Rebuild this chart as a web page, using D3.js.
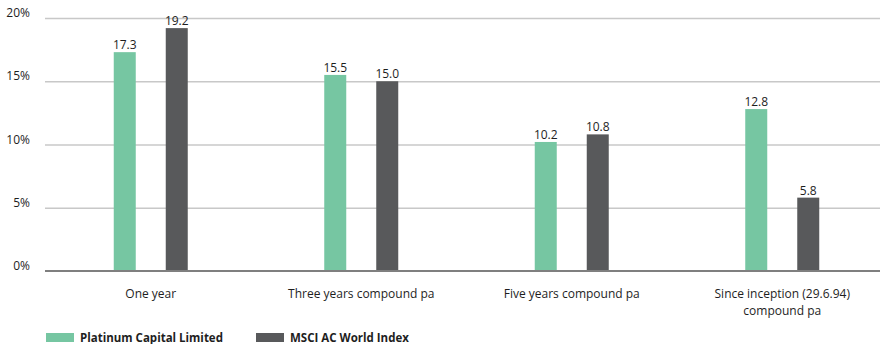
<!DOCTYPE html>
<html>
<head>
<meta charset="utf-8">
<script src="https://cdn.jsdelivr.net/npm/d3@7"></script>
<style>
  html, body { margin: 0; padding: 0; background: #fff; }
  svg { display: block; font-family: "Open Sans", "Noto Sans", sans-serif; }
</style>
</head>
<body>
<svg id="chart" width="880" height="344"></svg>
<script>
const categories = ["One year", "Three years compound pa", "Five years compound pa", "Since inception (29.6.94)\ncompound pa"];
const seriesNames = ["Platinum Capital Limited", "MSCI AC World Index"];
const platinum = [17.3, 15.5, 10.2, 12.8];
const msci = [19.2, 15.0, 10.8, 5.8];
const yTicks = [0, 5, 10, 15, 20];
const yTickLabels = ["0%", "5%", "10%", "15%", "20%"];
const colors = ["#76c6a2", "#58595b"];

(function () {
const svg = d3.select("#chart");
const mLeft = 45, mRight = 880, mTop = 18, mBottom = 271;
const textColor = "#1e1e1e";

const x0 = d3.scaleBand().domain(categories).range([45.5, 887.5]).padding(0);
const x1 = d3.scaleOrdinal().domain(seriesNames).range([-26, 26]);
const y = d3.scaleLinear().domain([0, 20]).range([mBottom, mTop]);
const barW = 22;

// gridlines
const grid = d3.axisLeft(y).tickValues(yTicks.filter(d => d !== 0)).tickSize(-(mRight - mLeft)).tickFormat("");
svg.append("g").attr("transform", `translate(${mLeft},0)`).call(grid)
  .call(g => g.select(".domain").remove())
  .call(g => g.selectAll("line").attr("stroke", "#c8c8c8").attr("stroke-width", 1.3));

// y tick labels
svg.append("g").selectAll("text").data(yTicks).join("text")
  .attr("x", 30).attr("y", d => y(d) - 1)
  .attr("text-anchor", "end").attr("font-size", 12).attr("fill", textColor)
  .text((d, i) => yTickLabels[i]);

const data = categories.map((c, i) => ({ cat: c, vals: [platinum[i], msci[i]] }));

const groups = svg.append("g").selectAll("g").data(data).join("g")
  .attr("transform", d => `translate(${x0(d.cat) + x0.bandwidth() / 2},0)`);

groups.selectAll("rect").data(d => d.vals.map((v, j) => ({ v, s: seriesNames[j], j })))
  .join("rect")
  .attr("x", d => x1(d.s) - barW / 2)
  .attr("width", barW)
  .attr("y", d => y(d.v))
  .attr("height", d => y(0) - y(d.v))
  .attr("fill", d => colors[d.j]);

groups.selectAll("text.val").data(d => d.vals.map((v, j) => ({ v, s: seriesNames[j], j })))
  .join("text").attr("class", "val")
  .attr("x", d => x1(d.s))
  .attr("y", d => y(d.v) - 3)
  .attr("text-anchor", "middle").attr("font-size", 12).attr("fill", textColor)
  .text(d => d.v.toFixed(1));

// x axis baseline
svg.append("line").attr("x1", mLeft).attr("x2", mRight).attr("y1", y(0)).attr("y2", y(0))
  .attr("stroke", "#7f7f7f").attr("stroke-width", 2);

// category labels (top-aligned)
groups.each(function(d) {
  const lines = d.cat.split("\n");
  const lh = 17;
  const t = d3.select(this).append("text")
    .attr("text-anchor", "middle").attr("font-size", 12).attr("fill", textColor);
  lines.forEach((ln, k) => t.append("tspan").attr("x", 0).attr("y", 297.5 + k * lh).text(ln));
});

// legend
const legendX = [46, 256];
const lg = svg.append("g").selectAll("g").data(seriesNames).join("g")
  .attr("transform", (d, i) => `translate(${legendX[i]},333)`);
lg.append("rect").attr("width", 28).attr("height", 9).attr("fill", (d, i) => colors[i]);
lg.append("text").attr("x", 34).attr("y", 8.5).attr("font-size", 11.5).attr("font-weight", "bold")
  .attr("fill", textColor).text(d => d);
})();
</script>
</body>
</html>
